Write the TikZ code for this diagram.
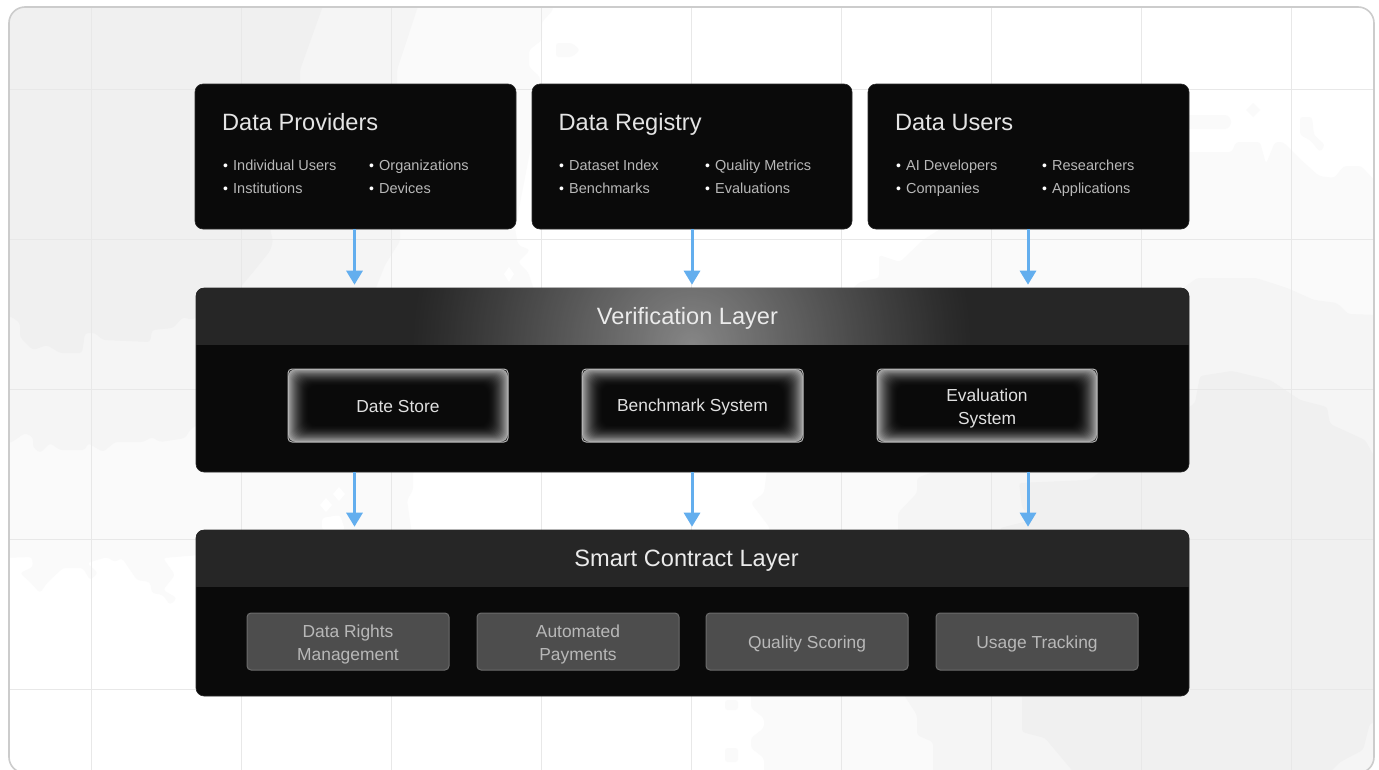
\documentclass[tikz,border=0pt]{standalone}
\usepackage{fontspec}
\setmainfont{Liberation Sans}
\usetikzlibrary{arrows.meta,calc}
\definecolor{bgFA}{HTML}{FAFAFA}
\definecolor{bgF5}{HTML}{F5F5F5}
\definecolor{bgF0}{HTML}{F0F0F0}
\definecolor{gridc}{HTML}{E8E8E8}
\definecolor{cardedge}{HTML}{CCCCCC}
\definecolor{boxk}{HTML}{0A0A0A}
\definecolor{boxedge}{HTML}{2A2A2A}
\definecolor{headk}{HTML}{262626}
\definecolor{arrowc}{HTML}{63AEEE}
\definecolor{titlec}{HTML}{E4E4E4}
\definecolor{listc}{HTML}{B8B8B8}
\definecolor{glowc}{HTML}{A4A4A4}
\definecolor{glowtop}{HTML}{868686}
\definecolor{subfill}{HTML}{4D4D4D}
\definecolor{subedge}{HTML}{6C6C6C}
\tikzset{
  blackbox/.style={draw=boxedge,line width=.6pt,fill=boxk,rounded corners=8pt,inner sep=0pt},
  title/.style={anchor=base west,inner sep=0pt,text=titlec,font=\fontsize{23.6}{29}\selectfont},
  item/.style={anchor=base west,inner sep=0pt,text=listc,font=\fontsize{14.5}{18}\selectfont},
  headtext/.style={inner sep=0pt,text=white!92!black,font=\fontsize{23.6}{29}\selectfont},
  glowbox/.style={draw=white!72!black,line width=1pt,rounded corners=4pt,inner sep=0pt},
  glowtext/.style={inner sep=0pt,align=center,text=white!88!black,font=\fontsize{17.4}{23}\selectfont},
  subbox/.style={draw=subedge,line width=1pt,fill=subfill,rounded corners=4pt,inner sep=0pt},
  subtext/.style={inner sep=0pt,align=center,text=white!72!black,font=\fontsize{17.4}{23}\selectfont},
  flow/.style={draw=arrowc,line width=3pt,-{Triangle[width=16pt,length=14pt,fill=arrowc]},shorten >=3pt},
}
\newcommand{\bul}{{\color{white}\fontsize{14}{14}\selectfont •}\kern 5.1pt}
\newcommand{\glowb}[7][1.5]{%
  \foreach \i in {0,...,20}{%
    \pgfmathsetmacro\pp{100*(1-\i/21)^1.9}%
    \fill[glowc!\pp!boxk,rounded corners=8pt] ({#3+\i},{#4+\i*.82}) rectangle ({#5-\i},{#6-\i*.82});
  }%
  \node[glowbox,minimum width={(#5-#3)*1pt},minimum height={(#6-#4)*1pt}] (#2) at ({(#3+#5)/2},{(#4+#6)/2}) {};%
  \node[glowtext] (#2t) at ({(#3+#5)/2},{(#4+#6)/2+#1}) {#7};%
}
\newcommand{\subb}[7][2]{%
  \node[subbox,minimum width={(#5-#3)*1pt},minimum height={(#6-#4)*1pt}] (#2) at ({(#3+#5)/2},{(#4+#6)/2}) {};%
  \node[subtext] (#2t) at ({(#3+#5)/2},{(#4+#6)/2+#1}) {#7};%
}
\begin{document}
\begin{tikzpicture}[x=1pt,y=-1pt]
\useasboundingbox (0,0) rectangle (1379,769);
\fill[white] (0,0) rectangle (1379,769);
\begin{scope}
\clip[rounded corners=16pt] (9,7) rectangle (1374,773);
% left contour blobs
\fill[bgFA,rounded corners=3pt] (0,0) -- (553,0) -- (553,10) -- (542,22) -- (542,40) -- (529,50) -- (529,67) -- (540,77) -- (540,100) -- (515,229) -- (518,245) -- (530,250) -- (518,262) -- (528,272) -- (534,290) -- (413,472) -- (413,490) -- (407,500) -- (412,535) -- (200,555) -- (187,556) -- (163,558) -- (175,575) -- (163,590) -- (177,598) -- (170,605) -- (163,595) -- (152,593) -- (150,582) -- (137,580) -- (122,558) -- (115,562) -- (107,557) -- (87,563) -- (98,573) -- (90,580) -- (83,568) -- (63,568) -- (50,580) -- (47,583) -- (40,593) -- (30,582) -- (20,573) -- (33,567) -- (32,557) -- (0,558) -- cycle;
\fill[bgFA,rounded corners=3pt] (556,43) -- (572,43) -- (580,50) -- (572,57) -- (556,57) -- cycle;
\fill[white] (339,487) -- (345,494) -- (339,501) -- (333,494) -- cycle;
\fill[white] (326,498) -- (332,505) -- (326,512) -- (320,505) -- cycle;
\fill[white,rounded corners=3pt] (322,518) -- (340,515) -- (345,530) -- (322,530) -- cycle;
\fill[white] (509,267) -- (514,274) -- (509,282) -- (504,274) -- cycle;
\fill[bgF5,rounded corners=3pt] (0,0) -- (420,0) -- (397,70) -- (397,90) -- (400,229) -- (400,241) -- (385,265) -- (375,290) -- (190,430) -- (185,438) -- (173,440) -- (160,442) -- (152,437) -- (143,442) -- (115,442) -- (103,452) -- (88,443) -- (85,450) -- (60,450) -- (50,443) -- (40,453) -- (33,447) -- (33,437) -- (25,433) -- (12,442) -- (0,445) -- cycle;
\fill[bgF0,rounded corners=3pt] (0,0) -- (325,0) -- (300,70) -- (300,90) -- (270,229) -- (273,241) -- (270,251) -- (254,271) -- (238,290) -- (192,320) -- (183,317) -- (173,328) -- (152,330) -- (150,342) -- (103,340) -- (95,333) -- (85,333) -- (82,353) -- (60,353) -- (47,345) -- (33,350) -- (20,337) -- (20,323) -- (12,317) -- (0,315) -- cycle;
% right contour blobs
\fill[bgFA,rounded corners=3pt] (1379,775) -- (764,775) -- (764,758) -- (751,748) -- (751,738) -- (764,728) -- (764,718) -- (751,708) -- (751,690) -- (770,528) -- (764,520) -- (751,503) -- (764,493) -- (767,470) -- (853,288) -- (860,282) -- (879,278) -- (879,255) -- (900,262) -- (923,240) -- (942,228) -- (1185,152) -- (1232,152) -- (1236,142) -- (1260,142) -- (1266,164) -- (1275,142) -- (1283,142) -- (1300,159) -- (1319,176) -- (1334,178) -- (1344,166) -- (1361,166) -- (1379,185) -- cycle;
\fill[bgFA,rounded corners=3pt] (1185,115) -- (1228,115) -- (1232,122) -- (1228,129) -- (1185,129) -- cycle;
\fill[bgFA] (1253,103) -- (1260,110) -- (1253,117) -- (1246,110) -- cycle;
\fill[bgFA,rounded corners=3pt] (1300,117) -- (1312,117) -- (1314,135) -- (1325,145) -- (1320,152) -- (1310,140) -- (1300,135) -- cycle;
\fill[bgFA,rounded corners=3pt] (725,700) rectangle (738,710);
\fill[bgFA,rounded corners=3pt] (725,748) rectangle (738,762);
\fill[bgFA] (783,734) -- (789,742) -- (783,750) -- (777,742) -- cycle;
\fill[bgF5,rounded corners=3pt] (1379,775) -- (933,775) -- (933,742) -- (917,735) -- (917,715) -- (904,695) -- (898,528) -- (898,513) -- (917,493) -- (917,478) -- (933,472) -- (1197,278) -- (1256,278) -- (1287,288) -- (1314,300) -- (1337,303) -- (1348,314) -- (1379,315) -- cycle;
\fill[bgF0,rounded corners=3pt] (1327,775) -- (1076,775) -- (1045,738) -- (1022,732) -- (1022,695) -- (1000,528) -- (1032,520) -- (1022,507) -- (1019,483) -- (1089,480) -- (1195,403) -- (1200,376) -- (1232,371) -- (1270,380) -- (1300,400) -- (1327,407) -- (1330,424) -- (1365,440) -- (1379,465) -- (1379,722) -- (1370,723) -- (1363,750) -- (1340,762) -- cycle;
% grid
\foreach \gx in {91,241,391,541,691,841,991,1141,1291}
  \draw[gridc,line width=.8pt] (\gx,7) -- (\gx,773);
\foreach \gy in {89,239,389,539,689}
  \draw[gridc,line width=.8pt] (9,\gy) -- (1374,\gy);
\end{scope}
\draw[cardedge,line width=1.6pt,rounded corners=16pt] (9,7) rectangle (1374,773);

% top boxes
\node[blackbox,minimum width=321pt,minimum height=145pt] (prov) at (355.5,156.5) {};
\node[blackbox,minimum width=320pt,minimum height=145pt] (reg) at (692,156.5) {};
\node[blackbox,minimum width=321pt,minimum height=145pt] (usr) at (1028.5,156.5) {};
% layers
\node[blackbox,minimum width=993pt,minimum height=184pt] (ver) at (692.5,380) {};
\node[blackbox,minimum width=993pt,minimum height=166pt] (smart) at (692.5,613) {};
% connectors
\foreach \a/\dx in {prov/-1pt,reg/0pt,usr/-.5pt}{
  \draw[flow] ([xshift=\dx]\a.south) -- ([xshift=\dx]\a.south |- ver.north);
  \draw[flow] ([xshift=\dx]\a.south |- ver.south) -- ([xshift=\dx]\a.south |- smart.north);
}
% headers
\begin{scope}
\clip[rounded corners=8pt] (196,288) rectangle (1189,472);
\fill[headk] (196,288) rectangle (1189,345);
\clip (196,288) rectangle (1189,344.6);
\foreach \r in {280,278,...,2}{
  \pgfmathsetmacro\pp{100*(1-\r/280)^1.1}
  \fill[glowtop!\pp!headk] (692,345) circle[radius=\r];
}
\end{scope}
\begin{scope}
\clip[rounded corners=8pt] (196,530) rectangle (1189,696);
\fill[headk] (196,530) rectangle (1189,587);
\end{scope}
\node[headtext] (vert) at (687.5,318.5) {Verification Layer};
\node[headtext] (smartt) at (686.5,561) {Smart Contract Layer};

% provider text
\node[title] (t1) at (222,130.5) {Data Providers};
\node[item] (p1) at (223,170) {\bul Individual Users};
\node[item] (p2) at (223,193) {\bul Institutions};
\node[item] (p3) at (369,170) {\bul Organizations};
\node[item] (p4) at (369,193) {\bul Devices};
% registry text
\node[title] (t2) at (558.5,130.5) {Data Registry};
\node[item] (r1) at (559,170) {\bul Dataset Index};
\node[item] (r2) at (559,193) {\bul Benchmarks};
\node[item] (r3) at (705,170) {\bul Quality Metrics};
\node[item] (r4) at (705,193) {\bul Evaluations};
% users text
\node[title] (t3) at (895,130.5) {Data Users};
\node[item] (u1) at (896,170) {\bul AI Developers};
\node[item] (u2) at (896,193) {\bul Companies};
\node[item] (u3) at (1042,170) {\bul Researchers};
\node[item] (u4) at (1042,193) {\bul Applications};

\glowb{g1}{288}{369}{508}{442}{Date Store}
\glowb{g2}{582}{369}{803}{442}{Benchmark System}
\glowb[3]{g3}{877}{369}{1097}{442}{Evaluation\\System}

\subb[3]{s1}{247}{613}{449}{670}{Data Rights\\Management}
\subb[3]{s2}{477}{613}{679}{670}{Automated\\Payments}
\subb{s3}{706}{613}{908}{670}{Quality Scoring}
\subb{s4}{936}{613}{1138}{670}{Usage Tracking}
\end{tikzpicture}
\end{document}
